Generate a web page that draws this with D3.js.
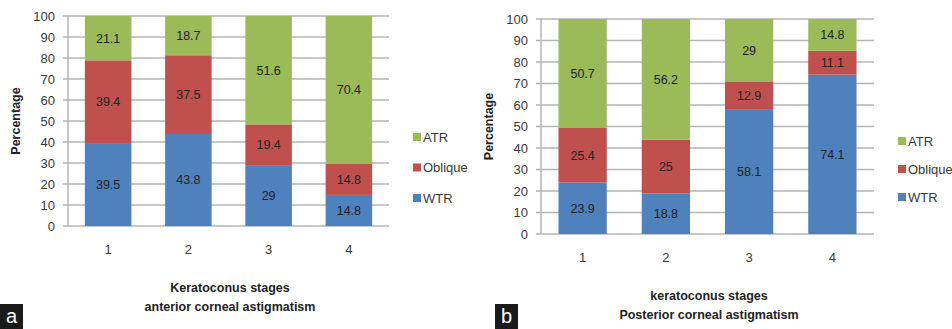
<!DOCTYPE html>
<html>
<head>
<meta charset="utf-8">
<script src="https://cdn.jsdelivr.net/npm/d3@7"></script>
<style>
  body { margin: 0; background: #fff; }
  text { font-family: "Liberation Sans Narrow", "Liberation Sans", Arial, sans-serif; }
</style>
</head>
<body>
<div class="container"></div>
<script>
var stages = ['1', '2', '3', '4'];
var seriesNames = ['WTR', 'Oblique', 'ATR'];
var seriesColors = ['#4f81bd', '#c0504d', '#9bbb59'];
var yTicks = [0, 10, 20, 30, 40, 50, 60, 70, 80, 90, 100];

// panel a - anterior
var anteriorWTR = [39.5, 43.8, 29, 14.8];
var anteriorOblique = [39.4, 37.5, 19.4, 14.8];
var anteriorATR = [21.1, 18.7, 51.6, 70.4];

// panel b - posterior
var posteriorWTR = [23.9, 18.8, 58.1, 74.1];
var posteriorOblique = [25.4, 25, 12.9, 11.1];
var posteriorATR = [50.7, 56.2, 29, 14.8];

var drawChart = function () {
    var svg = d3.select('.container')
        .append('svg')
        .attr('width', 952)
        .attr('height', 329);

    var drawPanel = function (opt) {
        var rows = stages.map(function (s, i) {
            return { stage: s, WTR: opt.wtr[i], Oblique: opt.oblique[i], ATR: opt.atr[i] };
        });
        var stacked = d3.stack().keys(seriesNames)(rows);

        var x = d3.scaleBand().domain(stages).range([opt.left, opt.right]).paddingInner(0.42).paddingOuter(0.21);
        var y = d3.scaleLinear().domain([0, 100]).range([opt.bottom, opt.top]);
        var color = d3.scaleOrdinal().domain(seriesNames).range(seriesColors);

        var g = svg.append('g');

        // gridlines
        g.append('g')
            .selectAll('line')
            .data(yTicks)
            .join('line')
            .attr('x1', opt.left - 5)
            .attr('x2', opt.right)
            .attr('y1', function (d) { return y(d); })
            .attr('y2', function (d) { return y(d); })
            .style('stroke', '#b5b5b5')
            .style('stroke-width', 1.5);

        g.append('line')
            .attr('x1', opt.left)
            .attr('x2', opt.left)
            .attr('y1', y(0))
            .attr('y2', y(100))
            .style('stroke', '#b5b5b5')
            .style('stroke-width', 1.5);

        // y tick labels
        g.append('g')
            .selectAll('text')
            .data(yTicks)
            .join('text')
            .attr('x', opt.left - 13)
            .attr('y', function (d) { return y(d); })
            .attr('dy', '0.35em')
            .attr('text-anchor', 'end')
            .style('font-size', '13px')
            .style('fill', '#3a3a3a')
            .text(function (d) { return d; });

        // bars
        var layers = g.append('g')
            .selectAll('g')
            .data(stacked)
            .join('g')
            .style('fill', function (d) { return color(d.key); });

        layers.selectAll('rect')
            .data(function (d) { return d; })
            .join('rect')
            .attr('x', function (d) { return x(d.data.stage); })
            .attr('width', x.bandwidth())
            .attr('y', function (d) { return y(d[1]); })
            .attr('height', function (d) { return y(d[0]) - y(d[1]); });

        layers.selectAll('text')
            .data(function (d) { return d.map(function (p) { return { p: p, key: d.key }; }); })
            .join('text')
            .attr('x', function (d) { return x(d.p.data.stage) + x.bandwidth() / 2; })
            .attr('y', function (d) { return y((d.p[0] + d.p[1]) / 2); })
            .attr('dy', '0.35em')
            .attr('text-anchor', 'middle')
            .style('font-size', '12.5px')
            .style('fill', '#222')
            .text(function (d) { return d.p.data[d.key]; });

        // x tick labels
        g.append('g')
            .selectAll('text')
            .data(stages)
            .join('text')
            .attr('x', function (d) { return x(d) + x.bandwidth() / 2; })
            .attr('y', opt.bottom + 28)
            .attr('text-anchor', 'middle')
            .style('font-size', '13px')
            .style('fill', '#3a3a3a')
            .text(function (d) { return d; });

        // axis titles
        g.append('text')
            .attr('x', opt.titleX)
            .attr('y', opt.bottom + 66)
            .attr('text-anchor', 'middle')
            .style('font-size', '12.5px')
            .style('font-weight', 'bold')
            .style('fill', '#222')
            .text(opt.title1);

        g.append('text')
            .attr('x', opt.titleX)
            .attr('y', opt.bottom + 85)
            .attr('text-anchor', 'middle')
            .style('font-size', '12.5px')
            .style('font-weight', 'bold')
            .style('fill', '#222')
            .text(opt.title2);

        g.append('text')
            .attr('transform', 'translate(' + opt.yLabelX + ',' + ((opt.top + opt.bottom) / 2) + ') rotate(-90)')
            .attr('text-anchor', 'middle')
            .attr('dy', '0.35em')
            .style('font-size', '12.5px')
            .style('font-weight', 'bold')
            .style('fill', '#222')
            .text('Percentage');

        // legend (top to bottom: ATR, Oblique, WTR)
        var legendItems = seriesNames.slice().reverse();
        var leg = g.append('g')
            .selectAll('g')
            .data(legendItems)
            .join('g')
            .attr('transform', function (d, i) { return 'translate(' + opt.legendX + ',' + (opt.legendY + i * opt.legendStep) + ')'; });

        leg.append('rect')
            .attr('x', 0)
            .attr('y', -4)
            .attr('width', 8)
            .attr('height', 8)
            .style('fill', function (d) { return color(d); });

        leg.append('text')
            .attr('x', 10)
            .attr('y', 0)
            .attr('dy', '0.35em')
            .style('font-size', '13px')
            .style('fill', '#3a3a3a')
            .text(function (d) { return d; });

        // panel letter
        svg.append('rect')
            .attr('x', opt.letterX)
            .attr('y', 304)
            .attr('width', 23)
            .attr('height', 25)
            .style('fill', '#1a1a1a');

        svg.append('text')
            .attr('x', opt.letterX + 11.5)
            .attr('y', 323)
            .attr('text-anchor', 'middle')
            .style('font-family', '"Liberation Sans", Arial, sans-serif')
            .style('font-size', '20px')
            .style('fill', '#fff')
            .text(opt.letter);
    };

    drawPanel({
        wtr: anteriorWTR, oblique: anteriorOblique, atr: anteriorATR,
        left: 68, right: 389, top: 16, bottom: 226,
        titleX: 230, title1: 'Keratoconus stages', title2: 'anterior corneal astigmatism',
        yLabelX: 16, legendX: 413, legendY: 137, legendStep: 30.5,
        letter: 'a', letterX: 0
    });

    drawPanel({
        wtr: posteriorWTR, oblique: posteriorOblique, atr: posteriorATR,
        left: 541, right: 874, top: 19, bottom: 234,
        titleX: 709, title1: 'keratoconus stages', title2: 'Posterior corneal astigmatism',
        yLabelX: 489, legendX: 898, legendY: 141, legendStep: 28,
        letter: 'b', letterX: 495
    });
};
window.onload = drawChart;
</script>
</body>
</html>
